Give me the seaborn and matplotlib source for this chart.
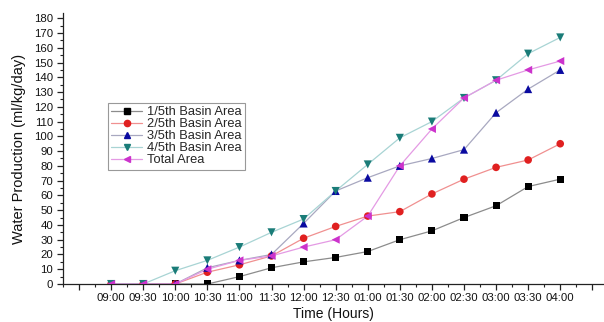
import matplotlib
matplotlib.use("Agg")
import matplotlib.pyplot as plt
from matplotlib.ticker import FixedLocator, MultipleLocator
from matplotlib.lines import Line2D
import seaborn as sns
import pandas as pd

times = ["09:00", "09:30", "10:00", "10:30", "11:00", "11:30", "12:00", "12:30",
         "01:00", "01:30", "02:00", "02:30", "03:00", "03:30", "04:00"]

basin_1_5 = [0, 0, 0, 0, 5, 11, 15, 18, 22, 30, 36, 45, 53, 66, 71]
basin_2_5 = [0, 0, 0, 8, 13, 19, 31, 39, 46, 49, 61, 71, 79, 84, 95]
basin_3_5 = [0, 0, 0, 11, 16, 20, 41, 63, 72, 80, 85, 91, 116, 132, 145]
basin_4_5 = [0, 0, 9, 16, 25, 35, 44, 63, 81, 99, 110, 126, 138, 156, 167]
total_area = [0, 0, 0, 10, 16, 19, 25, 30, 46, 80, 105, 126, 138, 145, 151]

series_names = ["1/5th Basin Area", "2/5th Basin Area", "3/5th Basin Area",
                "4/5th Basin Area", "Total Area"]
series_values = [basin_1_5, basin_2_5, basin_3_5, basin_4_5, total_area]

marker_colors = ["#000000", "#e02020", "#0a0aa0", "#1a7c78", "#cc33cc"]
line_colors = ["#8c8c8c", "#f09090", "#a8a8c0", "#a8d4d4", "#e49ae4"]
markers = ["s", "o", "^", "v", "<"]
marker_sizes = [26, 30, 34, 34, 34]

rows = []
for name, vals in zip(series_names, series_values):
    for i, (t, v) in enumerate(zip(times, vals)):
        rows.append({"pos": i, "time": t, "series": name, "value": v})
df = pd.DataFrame(rows)

sns.set_style("ticks")
plt.rcParams["font.family"] = ["Liberation Sans", "DejaVu Sans"]

fig = plt.figure(figsize=(6.04, 3.22), dpi=100)
ax = fig.add_axes([0.1043, 0.118, 0.896, 0.841])

sns.lineplot(data=df, x="pos", y="value", hue="series", hue_order=series_names,
             palette=line_colors, linewidth=0.9, legend=False, ax=ax, zorder=2)
for k, name in enumerate(series_names):
    sub = df[df["series"] == name]
    sns.scatterplot(data=sub, x="pos", y="value", color=marker_colors[k],
                    marker=markers[k], s=marker_sizes[k],
                    edgecolor="none", linewidth=0, legend=False, ax=ax, zorder=3 + k)

ax.set_xlim(-1.5, 15.37)
ax.set_ylim(0, 183.4)

ax.xaxis.set_major_locator(FixedLocator(list(range(-1, 16))))
ax.set_xticklabels([""] + times + [""])
ax.xaxis.set_minor_locator(FixedLocator([i + 0.5 for i in range(-2, 16)]))
ax.yaxis.set_major_locator(MultipleLocator(10))
ax.yaxis.set_minor_locator(MultipleLocator(5))

ax.tick_params(axis="both", which="major", length=4, width=0.9, labelsize=8.2,
               color="#222222", labelcolor="#111111", pad=3)
ax.tick_params(axis="both", which="minor", length=2.2, width=0.8, color="#222222")
ax.tick_params(axis="x", which="major", pad=2.5)

for side in ["top", "right"]:
    ax.spines[side].set_visible(False)
for side in ["left", "bottom"]:
    ax.spines[side].set_linewidth(0.9)
    ax.spines[side].set_color("#222222")

ax.set_xlabel("Time (Hours)", fontsize=10, color="#111111", labelpad=3)
ax.set_ylabel("Water Production (ml/kg/day)", fontsize=10.5, color="#111111", labelpad=6)

handles = [Line2D([0], [0], color=line_colors[k], lw=0.9, marker=markers[k],
                  markerfacecolor=marker_colors[k], markeredgecolor=marker_colors[k],
                  markersize=4.5)
           for k in range(len(series_names))]
leg = ax.legend(handles, series_names, loc="upper left",
                bbox_to_anchor=(0.083, 0.669), fontsize=9.3, frameon=True,
                fancybox=False, edgecolor="#999999", framealpha=1,
                handlelength=2.4, handletextpad=0.35, labelspacing=0.0,
                borderpad=0.25, borderaxespad=0)
leg.get_frame().set_linewidth(0.8)

fig.savefig("out.png", dpi=100)
